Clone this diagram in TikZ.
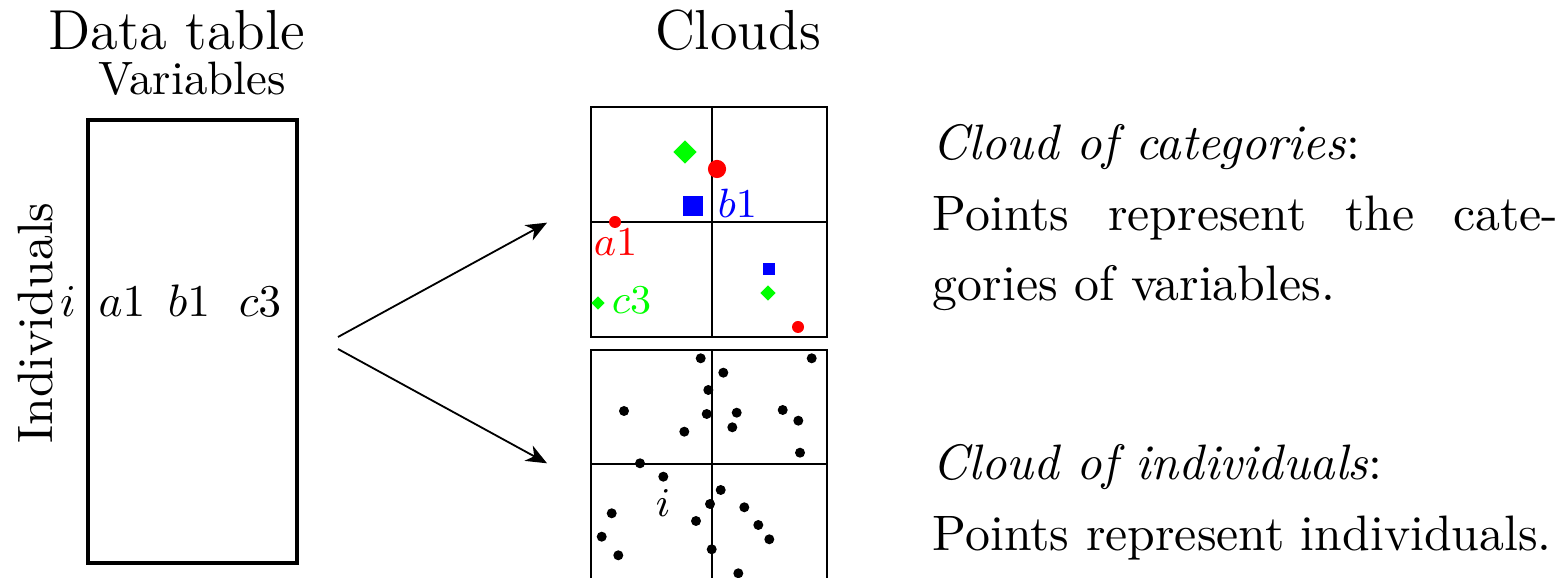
\documentclass[11pt,tikz,border=0pt]{standalone}
\usetikzlibrary{shapes.geometric,arrows.meta}
\begin{document}
\begin{tikzpicture}[x=0.2199pt,y=-0.2199pt,
    frame/.style={draw,inner sep=0pt,line width=#1},
    rdot/.style={circle,fill=red,inner sep=0pt,minimum size=#1},
    bsq/.style={rectangle,fill=blue,inner sep=0pt,minimum size=#1},
    gdia/.style={diamond,fill=green,inner sep=0pt,minimum size=#1},
    lab/.style={anchor=base west,inner sep=0pt,font=\footnotesize},
    title/.style={anchor=base,font=\fontsize{12.4}{15}\selectfont},
    txt/.style={anchor=base west,inner sep=0pt,text width=137.5pt,align=justify,
      font=\fontsize{10.95}{15.4}\selectfont},
    >={Stealth[length=4.6pt,width=3.8pt,inset=1.4pt]}]
  \useasboundingbox (0,0) rectangle (1560,578);

  % data table
  \node[title] (dtitle) at (177,50) {Data table};
  \node[anchor=base,font=\fontsize{10.3}{12}\selectfont] (vars) at (192,95) {Variables};
  \node[frame=0.7pt,minimum width=45.96pt,minimum height=97.4pt] (table) at (192.5,341.5) {};
  \node[rotate=90,anchor=base,inner sep=0pt] (indiv) at (52,323) {Individuals};
  \node[anchor=base,font=\small] (irow) at (68,317) {$i$};
  \node[anchor=base,font=\small] (va) at (122,317) {$a1$};
  \node[anchor=base,font=\small] (vb) at (189,317) {$b1$};
  \node[anchor=base,font=\small] (vc) at (260,317) {$c3$};

  % clouds
  \node[title] (ctitle) at (738,50) {Clouds};
  \node[frame=0.4pt,minimum width=51.9pt,minimum height=50.58pt] (catcloud) at (709,222) {};
  \node[frame=0.4pt,minimum width=51.9pt,minimum height=50.58pt] (indcloud) at (709,465) {};
  \coordinate (catO) at (712,222);
  \coordinate (indO) at (712,464);
  \draw[line width=0.4pt]
    (catO |- catcloud.north) -- (catO |- catcloud.south)
    (catcloud.west |- catO) -- (catcloud.east |- catO)
    (indO |- indcloud.north) -- (indO |- indcloud.south)
    (indcloud.west |- indO) -- (indcloud.east |- indO);

  % arrows
  \coordinate (fork1) at (338,337);
  \coordinate (fork2) at (338,349);
  \coordinate (catin) at (547,222.7);
  \coordinate (indin) at (547,463.3);
  \draw[->,line width=0.4pt] (fork1) -- (catin);
  \draw[->,line width=0.4pt] (fork2) -- (indin);

  % cloud of categories
  \node[gdia=5.3pt] (gbig) at (685,152) {};
  \node[rdot=4pt] (rbig) at (717,169) {};
  \node[bsq=4.4pt] (bbig) at (693,206) {};
  \node[lab,blue] (b1) at (717,218) {$b1$};
  \node[rdot=2.64pt] (rsmall) at (615,222) {};
  \node[lab,red] (a1) at (593,256) {$a1$};
  \node[bsq=2.64pt] (bsmall) at (769,269) {};
  \node[gdia=3.5pt] (gsmall) at (768,293) {};
  \node[rdot=2.64pt] (rlow) at (798,327) {};
  \node[gdia=3.1pt] (gleft) at (598,303) {};
  \node[lab,green] (c3) at (611,314) {$c3$};

  % cloud of individuals
  \fill
    (700.7,358.3) circle (5) (811.7,358.3) circle (5) (723.3,372.7) circle (5)
    (708.3,390) circle (5) (624,411) circle (5) (706.7,414) circle (5)
    (736.7,412.7) circle (5) (782.7,410) circle (5) (798.3,420.7) circle (5)
    (684.3,431.7) circle (5) (732.3,427.3) circle (5) (800,452.7) circle (5)
    (640,463.3) circle (5) (663.3,476.7) circle (5) (720.7,490) circle (5)
    (710,504) circle (5) (744.3,507.3) circle (5) (611.7,513.3) circle (5)
    (696,521) circle (5) (758.3,525) circle (5) (769.3,539.3) circle (5)
    (601.7,536.7) circle (5) (711.7,549.3) circle (5) (618.3,555.3) circle (5)
    (738.3,573.3) circle (5);
  \node[font=\footnotesize,inner sep=0pt] (ilab) at (663,503) {$i$};

  % texts
  \node[txt] (cattext) at (932,160)
    {\emph{Cloud of categories}:\\Points represent the cate-\linebreak gories of variables.};
  \node[txt] (indtext) at (932,480)
    {\emph{Cloud of individuals}:\\Points represent individuals.};
\end{tikzpicture}
\end{document}
